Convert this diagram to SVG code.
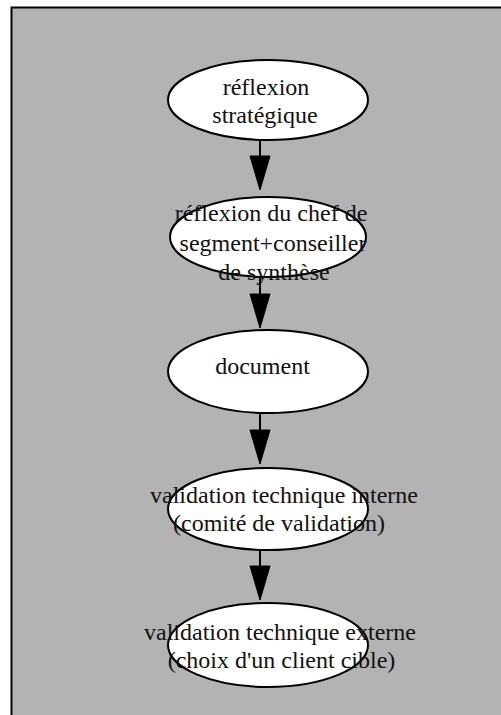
<svg xmlns="http://www.w3.org/2000/svg" width="501" height="715" viewBox="0 0 501 715">
<style>
.node ellipse{fill:#ffffff;stroke:#000000;stroke-width:2}
.node text{font-family:"Liberation Serif","Times New Roman",serif;font-size:24px;fill:#111111;text-anchor:middle;dominant-baseline:central}
.edge line{stroke:#000000;stroke-width:2}
.edge polygon{fill:#000000;stroke:#000000;stroke-width:1}
</style>
<rect x="0" y="0" width="501" height="715" fill="#ffffff"/>
<rect x="11.5" y="7.5" width="500" height="720" fill="#b3b3b3" stroke="#000000" stroke-width="2"/>
<g id="edges">
<g class="edge" id="e1"><line x1="260" y1="140" x2="260" y2="157"/><polygon points="250,156 270,156 260,190"/></g>
<g class="edge" id="e2"><line x1="260" y1="277" x2="260" y2="295"/><polygon points="250,294 270,294 260,328"/></g>
<g class="edge" id="e3"><line x1="260" y1="413" x2="260" y2="431"/><polygon points="250,430 270,430 260,464"/></g>
<g class="edge" id="e4"><line x1="260" y1="550" x2="260" y2="567"/><polygon points="250,566 270,566 260,600"/></g>
</g>
<g class="node" id="n1"><ellipse cx="268" cy="100" rx="100" ry="40"/><text x="266" y="87">réflexion</text><text x="265" y="115">stratégique</text></g>
<g class="node" id="n2"><ellipse cx="268" cy="237" rx="98" ry="40"/><text x="271" y="213">réflexion du chef de</text><text x="273" y="243">segment+conseiller</text><text x="274" y="272">de synthèse</text></g>
<g class="node" id="n3"><ellipse cx="268" cy="371.5" rx="100" ry="41.5"/><text x="262.5" y="366">document</text></g>
<g class="node" id="n4"><ellipse cx="268" cy="509" rx="100" ry="41"/><text x="284" y="495">validation technique interne</text><text x="279" y="523">(comité de validation)</text></g>
<g class="node" id="n5"><ellipse cx="268" cy="645" rx="100" ry="42"/><text x="280" y="632">validation technique externe</text><text x="281.5" y="660">(choix d'un client cible)</text></g>
</svg>
